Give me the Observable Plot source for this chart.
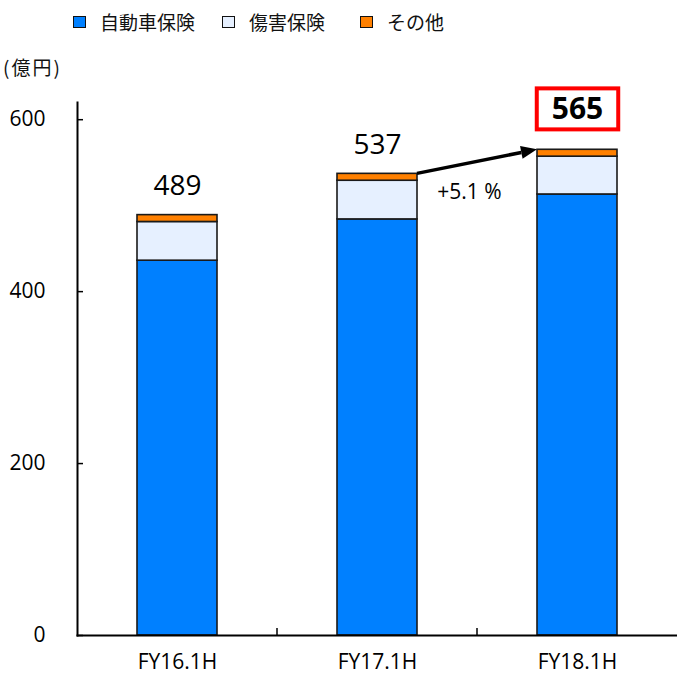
<!DOCTYPE html>
<html><head><meta charset="utf-8">
<script src="https://cdn.jsdelivr.net/npm/d3@7"></script>
<script src="https://cdn.jsdelivr.net/npm/@observablehq/plot@0.6"></script>
<style>
body{margin:0;background:#fff;}
#wrap{position:relative;width:677px;height:675px;overflow:hidden;}
.item{position:absolute;top:8px;height:27px;display:flex;align-items:center;white-space:nowrap;font-family:"Noto Sans CJK JP",sans-serif;font-size:19px;color:#111;}
.sw{width:11px;height:10px;border:1.6px solid #111;margin-right:14px;}
.unit{position:absolute;left:3px;top:53px;font-family:"Noto Sans CJK JP",sans-serif;font-size:19px;letter-spacing:2px;color:#111;}
#chart{position:absolute;left:0;top:0;}
</style>
</head><body>
<div id="wrap"><div id="chart"></div></div>
<script>
const categories = ["FY16.1H", "FY17.1H", "FY18.1H"];
const seriesNames = ["自動車保険", "傷害保険", "その他"];
const autoIns = [436, 484, 513];
const injuryIns = [45, 45, 44];
const otherIns = [8, 8, 8];
const totals = [489, 537, 565];
const growthLabel = "+5.1 %";
const unitLabel = "(億円)";
const yTicks = [0, 200, 400, 600];
const colors = ["#0080FF", "#E6F0FF", "#FF8000"];
const legendLeft = [73, 222, 360];

const series = [autoIns, injuryIns, otherIns];
const rows = [];
categories.forEach((c, i) => series.forEach((s, k) => rows.push({cat: c, series: seriesNames[k], value: s[i]})));
const totalRows = categories.map((c, i) => ({cat: c, total: totals[i]}));

const wrap = document.getElementById("wrap");
seriesNames.forEach((n, k) => {
  const it = document.createElement("div");
  it.className = "item";
  it.style.left = legendLeft[k] + "px";
  const sw = document.createElement("span");
  sw.className = "sw";
  sw.style.background = colors[k];
  it.appendChild(sw);
  it.appendChild(document.createTextNode(n));
  wrap.appendChild(it);
});
const u = document.createElement("div");
u.className = "unit"; u.textContent = unitLabel; wrap.appendChild(u);

const chart = Plot.plot({
  width: 677, height: 675,
  marginTop: 102, marginBottom: 40, marginLeft: 77, marginRight: 0,
  style: {fontFamily: "'Open Sans', sans-serif", fontSize: "21px", color: "#000", background: "transparent"},
  x: {domain: categories, paddingInner: 0.6, paddingOuter: 0.3, label: null},
  y: {domain: [0, 620], label: null},
  color: {domain: seriesNames, range: colors},
  marks: [
    Plot.barY(rows, {x: "cat", y: "value", fill: "series", stroke: "#1a1a1a", strokeWidth: 1.6}),
    Plot.axisY({ticks: yTicks, tickSize: -6, tickPadding: 38, strokeWidth: 1.5, fontSize: 21, tickFormat: d => String(d)}),
    Plot.axisX({tickSize: 0, tickPadding: 19, fontSize: 21}),
    Plot.frame({anchor: "left", strokeWidth: 2}),
    Plot.frame({anchor: "bottom", strokeWidth: 2}),
    Plot.text(totalRows.slice(0, 2), {x: "cat", y: "total", text: d => String(d.total), dy: -29, fontSize: 28}),
    Plot.text(totalRows.slice(2), {x: "cat", y: "total", text: d => String(d.total), dy: -40, fontSize: 30, fontWeight: "bold"}),
    Plot.text([totalRows[1]], {x: "cat", y: "total", text: () => growthLabel, dx: 92, dy: 18, fontSize: 21, style: {letterSpacing: "1.5px"}})
  ]
});
document.getElementById("chart").appendChild(chart);

// post-process: boundary ticks, growth arrow, highlight box, via Plot's scales
const svg = d3.select(chart);
const xs = chart.scale("x"), ys = chart.scale("y");
const bw = xs.bandwidth, step = xs.step;
const y0 = ys.apply(0);
categories.slice(0, -1).forEach(c => {
  const bx = xs.apply(c) + bw / 2 + step / 2;
  svg.append("line").attr("x1", bx).attr("x2", bx).attr("y1", y0).attr("y2", y0 - 7)
    .attr("stroke", "#000").attr("stroke-width", 1.5);
});
{
  const x1 = xs.apply(categories[1]) + bw, y1 = ys.apply(totals[1]);
  const x2 = xs.apply(categories[2]), y2 = ys.apply(totals[2]);
  const a = Math.atan2(y2 - y1, x2 - x1);
  const L = 16, W = 6.5;
  const bx = x2 - L * Math.cos(a), by = y2 - L * Math.sin(a);
  svg.append("line").attr("x1", x1).attr("y1", y1).attr("x2", bx).attr("y2", by)
    .attr("stroke", "#000").attr("stroke-width", 3.5);
  svg.append("polygon").attr("points", [
    [x2, y2], [bx + W * Math.sin(a), by - W * Math.cos(a)], [bx - W * Math.sin(a), by + W * Math.cos(a)]
  ].map(p => p.join(",")).join(" ")).attr("fill", "#000");
}
svg.selectAll("text").filter(function() { return this.textContent === String(totals[2]); }).each(function() {
  const b = this.getBBox();
  const cx = b.x + b.width / 2, cy = b.y + b.height / 2;
  const w = b.width + 30, h = 41;
  const t = this.getAttribute("transform");
  const r = document.createElementNS("http://www.w3.org/2000/svg", "rect");
  r.setAttribute("x", cx - w / 2); r.setAttribute("y", cy - h / 2 + 1);
  r.setAttribute("width", w); r.setAttribute("height", h);
  r.setAttribute("fill", "#fff"); r.setAttribute("stroke", "#FF0000"); r.setAttribute("stroke-width", 4);
  if (t) r.setAttribute("transform", t);
  this.parentNode.insertBefore(r, this);
});
</script>
</body></html>
